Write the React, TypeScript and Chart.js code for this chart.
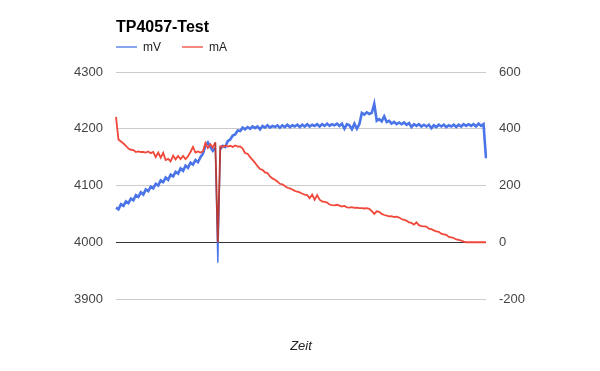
import React, { useEffect, useRef } from "react";
import { Chart, registerables } from "chart.js";

Chart.register(...registerables);

const chartTitle = "TP4057-Test";
const axisTitleX = "Zeit";
const seriesNames = ["mV", "mA"];

// voltage in mV (left axis)
const mV = [
  4061, 4058, 4067, 4064, 4072, 4069, 4077, 4074, 4083, 4080,
  4088, 4084, 4093, 4090, 4098, 4095, 4103, 4100, 4109, 4106,
  4114, 4110, 4119, 4116, 4124, 4121, 4130, 4126, 4135, 4131,
  4140, 4137, 4145, 4141, 4150, 4156, 4170, 4176, 4168, 4161,
  4166, 3964, 4164, 4170, 4168, 4178, 4181, 4188, 4190, 4197,
  4196, 4202, 4199, 4203, 4200, 4204, 4201, 4204, 4199, 4205,
  4202, 4206, 4202, 4205, 4203, 4206, 4202, 4206, 4203, 4207,
  4203, 4206, 4204, 4207, 4203, 4207, 4204, 4208, 4204, 4207,
  4205, 4208, 4204, 4208, 4205, 4209, 4205, 4208, 4206, 4209,
  4205, 4209, 4200, 4208, 4206, 4199, 4209, 4200, 4208, 4228,
  4225, 4229, 4226, 4228, 4244, 4214, 4217, 4213, 4222, 4212,
  4214, 4209, 4212, 4208, 4211, 4208, 4211, 4207, 4210, 4203,
  4208, 4205, 4208, 4204, 4207, 4204, 4207, 4201, 4206, 4203,
  4207, 4204, 4207, 4203, 4206, 4204, 4207, 4203, 4207, 4204,
  4208, 4205, 4208, 4205, 4208, 4204, 4209, 4205, 4208, 4148,
];

// current in mA (right axis)
const mA = [
  442, 362, 355, 348, 340, 330, 326, 325, 318, 320,
  318, 318, 316, 320, 314, 318, 300, 316, 298, 315,
  290, 294, 285, 305, 292, 304, 293, 304, 293, 303,
  318, 336, 316, 320, 316, 320, 350, 332, 345, 334,
  352, 0, 340, 336, 341, 337, 340, 336, 341, 337,
  338, 330, 314, 312, 300, 290, 280, 268, 258, 255,
  246, 244, 232, 225, 220, 214, 206, 204, 198, 192,
  190, 186, 181, 178, 176, 171, 168, 166, 155, 168,
  150, 166, 150, 144, 142, 140, 133, 131, 130, 132,
  129, 126, 128, 123, 122, 124, 121, 122, 120, 120,
  119, 120, 118, 110, 100, 109, 107, 100, 96, 94,
  91, 92, 89, 90, 87, 82, 79, 76, 70, 68,
  62, 70, 60, 57, 56, 55, 48, 46, 42, 38,
  37, 30, 28, 26, 19, 17, 15, 10, 8, 6,
  2, 0, 0, 0, 0, 0, 0, 0, 0, 0,
];

const timeLabels = mV.map((_, i) => String(i));

const leftTicks = [3900, 4000, 4100, 4200, 4300];
const rightTicks = [-200, 0, 200, 400, 600];

const BLUE = "#4a74e8";
const RED = "#f0483a";
const SPIKE_RED = "#b83a32";

export default function App() {
  const ref = useRef<HTMLCanvasElement | null>(null);

  useEffect(() => {
    if (!ref.current) return;
    const overlay = {
      id: "overlay",
      afterDraw(chart: any) {
        const ctx = chart.ctx;
        const area = chart.chartArea;
        ctx.save();
        ctx.fillStyle = "#000";
        ctx.font = 'bold 16px "Liberation Sans", Arial, sans-serif';
        ctx.textAlign = "left";
        ctx.textBaseline = "alphabetic";
        ctx.fillText(chartTitle, area.left, 32);

        const colors = [BLUE, RED];
        let x = area.left;
        ctx.font = '12px "Liberation Sans", Arial, sans-serif';
        seriesNames.forEach((name, i) => {
          ctx.strokeStyle = colors[i];
          ctx.globalAlpha = 0.65;
          ctx.lineWidth = 2;
          ctx.beginPath();
          ctx.moveTo(x, 47);
          ctx.lineTo(x + 21, 47);
          ctx.stroke();
          ctx.globalAlpha = 1;
          ctx.fillStyle = "#222";
          ctx.fillText(name, x + 27, 51);
          x += 27 + ctx.measureText(name).width + 21;
        });

        ctx.font = 'italic 13px "Liberation Sans", Arial, sans-serif';
        ctx.fillStyle = "#222";
        ctx.textAlign = "center";
        ctx.fillText(axisTitleX, (area.left + area.right) / 2, 350);
        ctx.restore();
      },
    };

    const tickFont = { family: '"Liberation Sans", Arial, sans-serif', size: 13 };
    const isSpikeSeg = (c: any) => {
      const a = c.p0.parsed.y;
      const b = c.p1.parsed.y;
      return Math.abs(a - b) > 150;
    };

    const chart = new Chart(ref.current, {
      type: "line",
      data: {
        labels: timeLabels,
        datasets: [
          {
            label: seriesNames[0],
            data: mV,
            yAxisID: "y",
            borderColor: BLUE,
            borderWidth: 2.6,
            pointRadius: 0,
            tension: 0,
            order: 2,
            segment: {
              borderWidth: (c: any) => (isSpikeSeg(c) ? 1.4 : 2.6),
            },
          },
          {
            label: seriesNames[1],
            data: mA,
            yAxisID: "y1",
            borderColor: RED,
            borderWidth: 1.8,
            pointRadius: 0,
            tension: 0,
            order: 1,
            segment: {
              borderColor: (c: any) => (isSpikeSeg(c) ? SPIKE_RED : RED),
            },
          },
        ],
      },
      options: {
        responsive: false,
        animation: false,
        layout: { padding: { top: 72, bottom: 72, left: 0, right: 0 } },
        plugins: {
          legend: { display: false },
          title: { display: false },
          tooltip: { enabled: false },
        },
        scales: {
          x: { display: false },
          y: {
            position: "left",
            min: 3900,
            max: 4300,
            afterBuildTicks: (s: any) => {
              s.ticks = leftTicks.map((v) => ({ value: v }));
            },
            afterFit: (s: any) => {
              s.width = 116;
            },
            border: { display: false },
            grid: {
              drawTicks: false,
              color: (c: any) => (c.tick && c.tick.value === 4000 ? "#333" : "#ccc"),
              lineWidth: 1,
            },
            ticks: {
              padding: 13,
              color: "#444",
              font: tickFont,
              callback: (v: any) => String(v),
            },
          },
          y1: {
            position: "right",
            min: -200,
            max: 600,
            afterBuildTicks: (s: any) => {
              s.ticks = rightTicks.map((v) => ({ value: v }));
            },
            afterFit: (s: any) => {
              s.width = 114;
            },
            border: { display: false },
            grid: { display: false, drawTicks: false },
            ticks: {
              padding: 13,
              color: "#444",
              font: tickFont,
              callback: (v: any) => String(v),
            },
          },
        },
      },
      plugins: [overlay],
    });
    return () => chart.destroy();
  }, []);

  return (
    <div style={{ position: "absolute", left: 0, top: 0, width: 600, height: 371, background: "#fff" }}>
      <canvas ref={ref} width={600} height={371} />
    </div>
  );
}
